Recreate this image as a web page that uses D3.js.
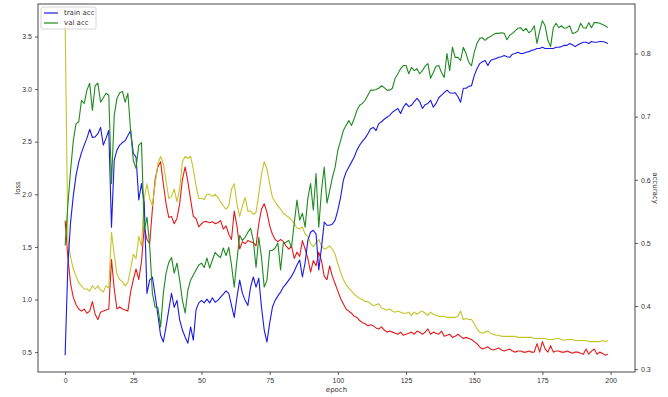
<!DOCTYPE html>
<html>
<head>
<meta charset="utf-8">
<script src="https://cdn.jsdelivr.net/npm/d3@7"></script>
<style>
  body { margin: 0; background: #fff; }
  svg { display: block; font-family: "DejaVu Sans", sans-serif; }
</style>
</head>
<body>
<svg id="chart" width="668" height="397"></svg>
<script>
// values, one per epoch (0..199)
const trainLoss = [
  1.75, 1.40, 1.15, 1.02, 0.95, 0.91, 0.89, 0.91, 0.87, 0.89, 0.98, 0.86, 0.81, 0.88, 0.89, 0.90, 0.91, 1.38, 1.10, 0.91,
  0.93, 0.91, 0.90, 0.89, 1.07, 1.19, 1.29, 1.19, 1.36, 1.69, 1.57, 1.53, 1.86, 2.14, 2.26, 2.31, 2.10, 1.91, 1.78, 1.79,
  1.72, 1.77, 1.91, 2.14, 2.26, 2.12, 1.95, 1.79, 1.77, 1.69, 1.72, 1.74, 1.74, 1.73, 1.74, 1.72, 1.73, 1.75, 1.67, 1.70,
  1.62, 1.57, 1.84, 1.70, 1.48, 1.55, 1.53, 1.56, 1.55, 1.54, 1.51, 1.72, 1.86, 1.91, 1.83, 1.70, 1.62, 1.57, 1.55, 1.57,
  1.55, 1.51, 1.48, 1.51, 1.39, 1.45, 1.41, 1.56, 1.48, 1.39, 1.26, 1.37, 1.32, 1.45, 1.37, 1.22, 1.19, 1.32, 1.22, 1.15,
  1.08, 1.01, 0.96, 0.91, 0.89, 0.87, 0.84, 0.83, 0.80, 0.78, 0.77, 0.75, 0.76, 0.75, 0.73, 0.72, 0.74, 0.71, 0.69, 0.70,
  0.69, 0.68, 0.67, 0.69, 0.66, 0.67, 0.68, 0.69, 0.67, 0.70, 0.69, 0.67, 0.69, 0.72, 0.67, 0.69, 0.68, 0.67, 0.70, 0.65,
  0.66, 0.67, 0.64, 0.65, 0.67, 0.65, 0.63, 0.64, 0.63, 0.62, 0.60, 0.58, 0.55, 0.53, 0.54, 0.55, 0.53, 0.52, 0.53, 0.54,
  0.52, 0.51, 0.52, 0.53, 0.51, 0.50, 0.51, 0.51, 0.50, 0.50, 0.51, 0.50, 0.50, 0.58, 0.50, 0.60, 0.53, 0.50, 0.56, 0.50,
  0.51, 0.51, 0.50, 0.50, 0.51, 0.50, 0.49, 0.50, 0.50, 0.49, 0.48, 0.53, 0.48, 0.51, 0.53, 0.48, 0.50, 0.49, 0.47, 0.48
]
const valLoss = [
  3.65, 1.57, 1.40, 1.29, 1.22, 1.16, 1.13, 1.10, 1.10, 1.08, 1.13, 1.10, 1.13, 1.09, 1.07, 1.13, 1.11, 1.64, 1.43, 1.24,
  1.19, 1.17, 1.13, 1.16, 1.29, 1.43, 1.39, 1.60, 1.51, 1.96, 2.10, 1.96, 1.89, 2.10, 2.29, 2.36, 2.29, 2.13, 1.96, 1.98,
  2.05, 1.93, 2.05, 2.31, 2.36, 2.34, 2.36, 2.24, 2.08, 1.96, 1.96, 1.95, 2.00, 2.00, 1.98, 2.00, 1.97, 1.93, 1.89, 1.86,
  1.89, 2.05, 2.10, 1.91, 1.79, 1.89, 1.97, 1.84, 1.84, 1.81, 1.83, 2.00, 2.19, 2.31, 2.24, 2.10, 1.97, 1.93, 1.89, 1.86,
  1.82, 1.80, 1.78, 1.76, 1.72, 1.68, 1.67, 1.69, 1.62, 1.60, 1.53, 1.50, 1.54, 1.57, 1.51, 1.48, 1.49, 1.51, 1.48, 1.43,
  1.34, 1.26, 1.19, 1.14, 1.11, 1.08, 1.05, 1.03, 1.01, 1.00, 0.98, 0.98, 0.96, 0.94, 0.95, 0.96, 0.92, 0.91, 0.90, 0.91,
  0.89, 0.88, 0.89, 0.88, 0.87, 0.87, 0.88, 0.85, 0.88, 0.86, 0.88, 0.89, 0.87, 0.85, 0.88, 0.86, 0.85, 0.84, 0.84, 0.84,
  0.83, 0.83, 0.83, 0.83, 0.84, 0.89, 0.81, 0.82, 0.81, 0.81, 0.77, 0.72, 0.69, 0.68, 0.69, 0.70, 0.68, 0.67, 0.66, 0.66,
  0.65, 0.65, 0.65, 0.65, 0.65, 0.65, 0.64, 0.64, 0.64, 0.64, 0.64, 0.64, 0.63, 0.63, 0.63, 0.63, 0.63, 0.62, 0.62, 0.62,
  0.63, 0.63, 0.62, 0.61, 0.62, 0.62, 0.62, 0.61, 0.61, 0.61, 0.61, 0.61, 0.60, 0.60, 0.60, 0.60, 0.60, 0.61, 0.60, 0.61
]
const trainAcc = [
  0.322, 0.465, 0.533, 0.575, 0.607, 0.628, 0.643, 0.655, 0.666, 0.680, 0.667, 0.668, 0.673, 0.683, 0.655, 0.666, 0.678, 0.525, 0.631, 0.647,
  0.655, 0.659, 0.662, 0.670, 0.678, 0.642, 0.636, 0.568, 0.594, 0.563, 0.420, 0.441, 0.446, 0.417, 0.386, 0.354, 0.343, 0.367, 0.394, 0.420,
  0.398, 0.409, 0.378, 0.362, 0.351, 0.341, 0.367, 0.346, 0.394, 0.405, 0.409, 0.405, 0.411, 0.405, 0.413, 0.406, 0.409, 0.414, 0.419, 0.424,
  0.420, 0.401, 0.382, 0.414, 0.441, 0.420, 0.409, 0.401, 0.430, 0.446, 0.430, 0.444, 0.398, 0.362, 0.343, 0.373, 0.398, 0.409, 0.416, 0.422,
  0.430, 0.435, 0.441, 0.447, 0.455, 0.465, 0.473, 0.446, 0.469, 0.504, 0.517, 0.520, 0.514, 0.457, 0.493, 0.533, 0.528, 0.528, 0.530, 0.536,
  0.552, 0.572, 0.599, 0.612, 0.620, 0.628, 0.636, 0.647, 0.655, 0.661, 0.666, 0.673, 0.681, 0.683, 0.678, 0.689, 0.692, 0.696, 0.699, 0.702,
  0.707, 0.710, 0.713, 0.705, 0.715, 0.721, 0.716, 0.718, 0.724, 0.729, 0.724, 0.713, 0.719, 0.721, 0.726, 0.715, 0.721, 0.730, 0.734, 0.738,
  0.742, 0.738, 0.737, 0.738, 0.732, 0.723, 0.745, 0.745, 0.748, 0.749, 0.765, 0.776, 0.784, 0.787, 0.789, 0.781, 0.789, 0.791, 0.792, 0.794,
  0.795, 0.797, 0.795, 0.794, 0.799, 0.800, 0.802, 0.800, 0.800, 0.802, 0.803, 0.805, 0.806, 0.808, 0.808, 0.810, 0.808, 0.808, 0.808, 0.808,
  0.810, 0.810, 0.811, 0.813, 0.813, 0.816, 0.814, 0.811, 0.814, 0.816, 0.818, 0.818, 0.816, 0.819, 0.818, 0.818, 0.819, 0.819, 0.818, 0.816
]
const valAcc = [
  0.496, 0.560, 0.615, 0.662, 0.689, 0.692, 0.726, 0.721, 0.742, 0.753, 0.710, 0.749, 0.753, 0.723, 0.730, 0.737, 0.734, 0.594, 0.702, 0.729,
  0.738, 0.740, 0.723, 0.737, 0.678, 0.631, 0.618, 0.655, 0.659, 0.520, 0.541, 0.496, 0.420, 0.398, 0.398, 0.367, 0.420, 0.452, 0.469, 0.477,
  0.452, 0.468, 0.441, 0.409, 0.389, 0.425, 0.441, 0.449, 0.457, 0.465, 0.468, 0.461, 0.476, 0.460, 0.473, 0.485, 0.480, 0.477, 0.492, 0.480,
  0.493, 0.465, 0.430, 0.473, 0.512, 0.504, 0.509, 0.517, 0.523, 0.504, 0.461, 0.509, 0.477, 0.430, 0.441, 0.488, 0.488, 0.492, 0.500, 0.457,
  0.500, 0.501, 0.504, 0.493, 0.531, 0.568, 0.536, 0.547, 0.525, 0.571, 0.594, 0.552, 0.610, 0.525, 0.583, 0.620, 0.563, 0.583, 0.604, 0.620,
  0.647, 0.662, 0.678, 0.686, 0.694, 0.686, 0.697, 0.710, 0.718, 0.721, 0.726, 0.734, 0.742, 0.742, 0.743, 0.745, 0.749, 0.746, 0.742, 0.742,
  0.745, 0.761, 0.768, 0.776, 0.781, 0.781, 0.768, 0.778, 0.773, 0.776, 0.768, 0.773, 0.780, 0.784, 0.761, 0.770, 0.780, 0.781, 0.770, 0.762,
  0.800, 0.773, 0.810, 0.794, 0.794, 0.789, 0.810, 0.800, 0.786, 0.781, 0.802, 0.816, 0.824, 0.825, 0.821, 0.825, 0.827, 0.830, 0.832, 0.832,
  0.833, 0.832, 0.822, 0.829, 0.832, 0.836, 0.840, 0.841, 0.836, 0.840, 0.833, 0.836, 0.844, 0.816, 0.836, 0.852, 0.844, 0.821, 0.811, 0.841,
  0.848, 0.841, 0.844, 0.840, 0.841, 0.844, 0.832, 0.833, 0.836, 0.848, 0.841, 0.840, 0.849, 0.841, 0.849, 0.849, 0.848, 0.846, 0.844, 0.841
]

const epochTicks = [0, 25, 50, 75, 100, 125, 150, 175, 200]
const lossTicks = [0.5, 1.0, 1.5, 2.0, 2.5, 3.0, 3.5]
const accTicks = [0.3, 0.4, 0.5, 0.6, 0.7, 0.8]
const legendItems = [
    { label: 'train acc', color: '#1a1ae6' },
    { label: 'val acc', color: '#1f8a1f' }
]

const svg = d3.select('#chart')
const margin = { top: 4, right: 33, bottom: 25, left: 38 }
const width = 668
const height = 397
const x0 = margin.left, x1 = width - margin.right
const y0 = margin.top, y1 = height - margin.bottom

// matplotlib style autoscale: data extent padded by 5% on each side
function padded(ext) {
    const p = (ext[1] - ext[0]) * 0.05
    return [ext[0] - p, ext[1] + p]
}

const epochs = d3.range(trainLoss.length)

const x = d3.scaleLinear()
    .domain(padded([0, epochs.length - 1]))
    .range([x0, x1])

const yLoss = d3.scaleLinear()
    .domain(padded(d3.extent(trainLoss.concat(valLoss))))
    .range([y1, y0])

const yAcc = d3.scaleLinear()
    .domain(padded(d3.extent(trainAcc.concat(valAcc))))
    .range([y1, y0])

const plot = svg.append('g')

// clip the lines to the axes box
svg.append('clipPath').attr('id', 'clip')
    .append('rect')
    .attr('x', x0).attr('y', y0)
    .attr('width', x1 - x0).attr('height', y1 - y0)

function drawLine(values, scale, color) {
    const line = d3.line()
        .x((d, i) => x(i))
        .y(d => scale(d))
    plot.append('path')
        .datum(values)
        .attr('clip-path', 'url(#clip)')
        .attr('d', line)
        .attr('fill', 'none')
        .attr('stroke', color)
        .attr('stroke-width', 1.1)
        .attr('stroke-linejoin', 'round')
}

drawLine(trainLoss, yLoss, '#e61a1a')
drawLine(valLoss, yLoss, '#c4c42a')
drawLine(trainAcc, yAcc, '#1a1ae6')
drawLine(valAcc, yAcc, '#1f8a1f')

// axes
function styleAxis(g) {
    g.selectAll('.domain').remove()
    g.selectAll('.tick line').attr('stroke', '#333').attr('stroke-width', 0.8)
    g.selectAll('.tick text').attr('fill', '#333').style('font-size', '7px')
}

svg.append('g')
    .attr('transform', `translate(0,${y1})`)
    .call(d3.axisBottom(x).tickValues(epochTicks).tickSize(3).tickPadding(3).tickFormat(d3.format('d')))
    .call(styleAxis)

svg.append('g')
    .attr('transform', `translate(${x0},0)`)
    .call(d3.axisLeft(yLoss).tickValues(lossTicks).tickSize(3).tickPadding(3).tickFormat(d3.format('.1f')))
    .call(styleAxis)

svg.append('g')
    .attr('transform', `translate(${x1},0)`)
    .call(d3.axisRight(yAcc).tickValues(accTicks).tickSize(3).tickPadding(3).tickFormat(d3.format('.1f')))
    .call(styleAxis)

// frame
svg.append('rect')
    .attr('x', x0).attr('y', y0)
    .attr('width', x1 - x0).attr('height', y1 - y0)
    .attr('fill', 'none')
    .attr('stroke', '#333')
    .attr('stroke-width', 0.9)

// axis titles
svg.append('text')
    .attr('x', (x0 + x1) / 2).attr('y', 392)
    .attr('text-anchor', 'middle')
    .attr('fill', '#333').style('font-size', '7px')
    .text('epoch')

svg.append('text')
    .attr('transform', `translate(20,${(y0 + y1) / 2}) rotate(-90)`)
    .attr('text-anchor', 'middle')
    .attr('fill', '#333').style('font-size', '7px')
    .text('loss')

svg.append('text')
    .attr('transform', `translate(653,${(y0 + y1) / 2}) rotate(90)`)
    .attr('text-anchor', 'middle')
    .attr('fill', '#333').style('font-size', '7px')
    .text('accuracy')

// legend (upper left)
const legend = svg.append('g').attr('transform', `translate(${x0 + 3},${y0 + 3})`)
legend.append('rect')
    .attr('width', 55).attr('height', 22)
    .attr('rx', 2)
    .attr('fill', '#fff').attr('fill-opacity', 0.8)
    .attr('stroke', '#ccc').attr('stroke-width', 0.8)

const item = legend.selectAll('g.item')
    .data(legendItems)
    .join('g')
    .attr('class', 'item')
    .attr('transform', (d, i) => `translate(3,${6 + i * 10})`)

item.append('line')
    .attr('x1', 0).attr('x2', 14)
    .attr('stroke', d => d.color)
    .attr('stroke-width', 1.2)

item.append('text')
    .attr('x', 20).attr('dy', '0.35em')
    .attr('fill', '#333').style('font-size', '7px')
    .text(d => d.label)
</script>
</body>
</html>
